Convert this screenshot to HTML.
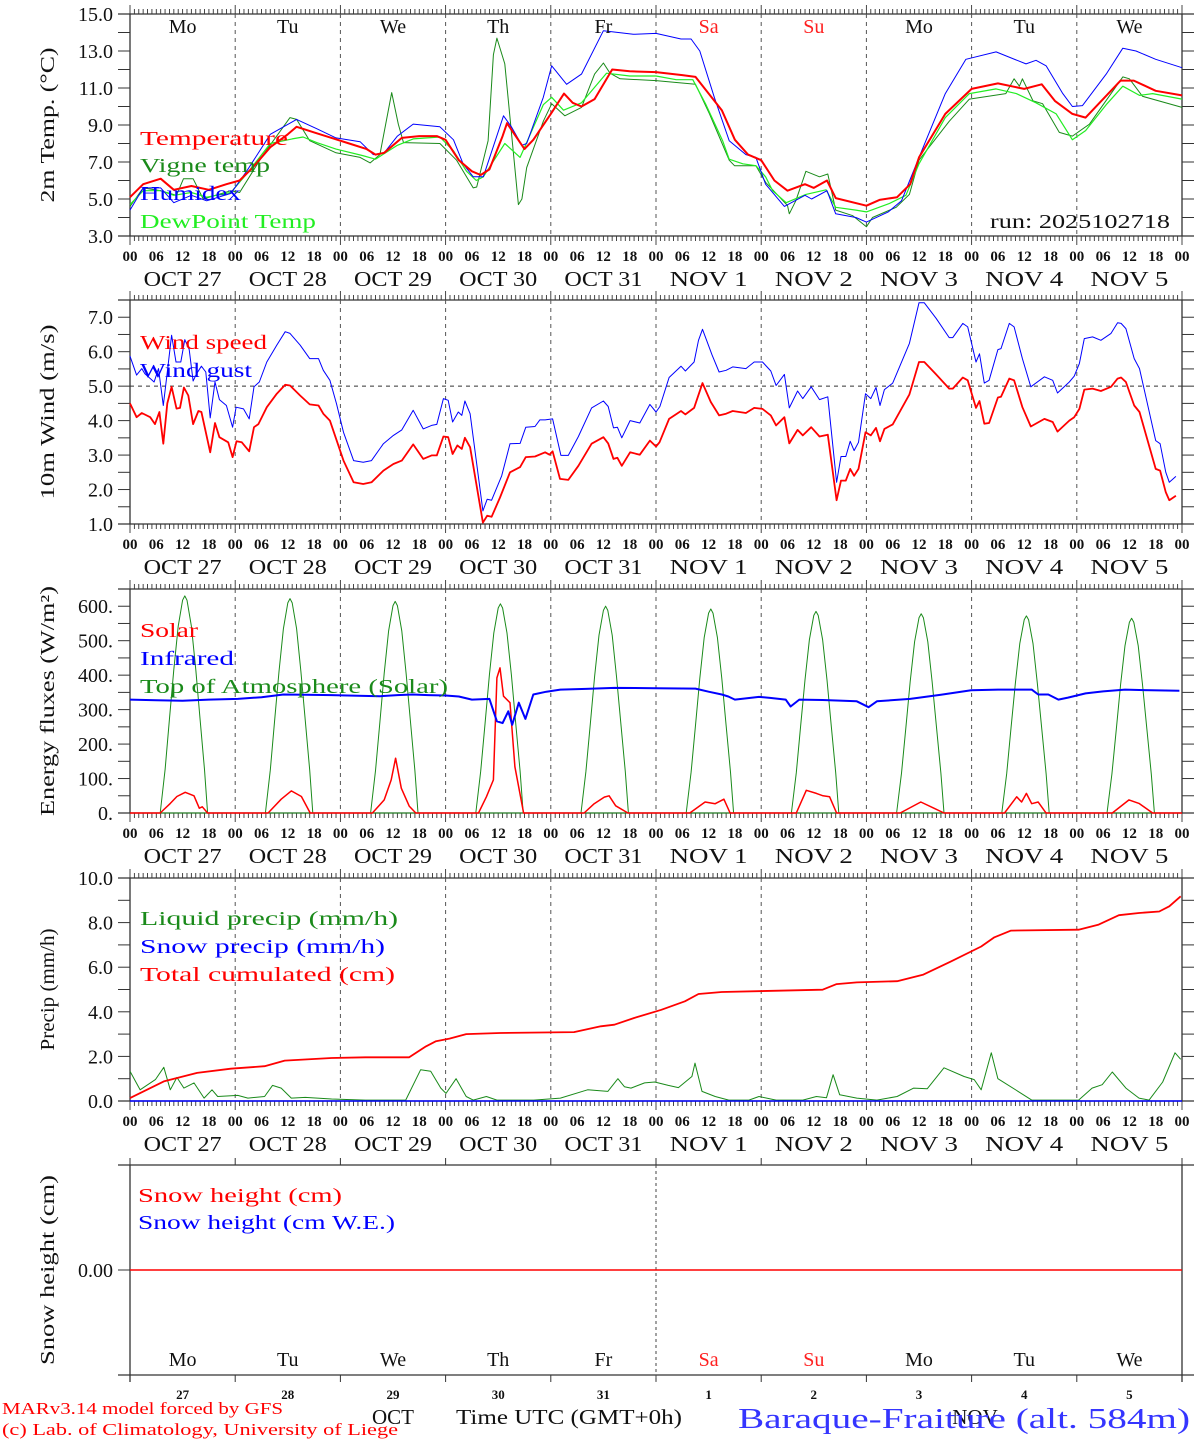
<!DOCTYPE html>
<html><head><meta charset="utf-8">
<style>
html,body{margin:0;padding:0;background:#fff;}
svg{display:block;font-family:"Liberation Serif",serif;}
</style></head>
<body>
<svg id="chart" width="1194" height="1440" viewBox="0 0 1194 1440" xmlns="http://www.w3.org/2000/svg"></svg>
<script>
// ---------- DATA (hours since Oct 27 00 UTC, value) ----------
const dayNames = ["Mo","Tu","We","Th","Fr","Sa","Su","Mo","Tu","We"];
const dayDates = ["OCT 27","OCT 28","OCT 29","OCT 30","OCT 31","NOV  1","NOV  2","NOV  3","NOV  4","NOV  5"];
const dayNums = ["27","28","29","30","31","1","2","3","4","5"];
const hourTicks = ["00","06","12","18"];

const tempH = [0,3,7,10,14,18,22,25,28,32,36,38,42,46,50,54,56,58,62,66,70,72,75,78,80,82,85,86,88,90,92,96,99,101,103,106,109,110,114,120,126,129,135,138,141,144,147,150,154,156,159,161,168,171,175,178,180,186,192,198,204,208,211,215,218,226,229,234,240];
const tempV = [5.1,5.8,6.1,5.5,5.7,5.5,5.8,6.0,6.7,7.8,8.5,8.9,8.6,8.3,8.0,7.7,7.4,7.5,8.3,8.4,8.4,8.2,7.1,6.5,6.3,6.6,8.4,9.1,8.4,7.7,8.2,9.6,10.7,10.2,10.0,10.4,11.6,12.0,11.9,11.86,11.7,11.6,9.8,8.2,7.4,7.1,6.0,5.45,5.8,5.6,6.0,5.05,4.64,4.95,5.1,5.8,7.25,9.6,10.95,11.25,10.95,11.2,10.3,9.6,9.4,11.4,11.4,10.85,10.6];

const humH = [0,3,7,10,14,17.5,23,26.6,32,38,42.6,47,52.5,55.5,58,61,64.6,70.7,73.8,76,78.3,80.6,85.2,87,89.4,90.5,94.3,96.2,99.6,103,108,114.8,120,125.7,128,130,133.3,136.7,140.5,142.8,145,149.3,154,155.5,159,161,165.6,168,173,176,180,186,190.7,197.6,204.4,206.7,209,212.8,215,217.3,222.7,226.5,229.5,234,240];
const humV = [4.4,5.6,5.6,4.8,5.2,4.9,5.3,6.5,8.5,9.3,8.8,8.3,8.1,7.4,7.5,8.4,9.05,8.9,8.2,6.9,6.2,6.2,9.5,8.9,7.9,8.0,10.5,12.2,11.2,11.75,14.1,13.9,13.95,13.65,13.65,13.0,10.5,8.15,7.4,7.25,5.8,4.6,5.2,5.0,5.45,4.2,4.0,3.75,4.3,4.9,7.25,10.7,12.55,12.95,12.3,12.5,12.2,10.7,10.0,10.05,11.75,13.15,13.0,12.55,12.1];

const dewH = [0,3,7,10,14,17.5,23,26.6,32,37,39.5,42.6,47,53,56,61,64.6,70.7,73.8,76.8,79,80.6,85.5,89,94.3,96.2,98.9,103,108.7,114,120,124.6,128.4,131.4,135.2,136.7,139.8,142.8,145,146.6,149.7,154.2,158.8,161,165.6,168,173.2,177,180,186,191.5,197.6,202.2,206.7,211.3,215,218,222.7,226.5,230.3,233.3,240];
const dewV = [4.7,5.45,5.45,5.2,5.35,5.1,5.35,6.35,8.0,8.25,8.35,8.05,7.7,7.35,7.15,7.9,8.25,8.35,7.6,6.5,6.0,6.2,8.0,7.25,10.1,10.5,9.8,10.2,11.8,11.65,11.65,11.45,11.45,10.1,8.15,7.15,6.9,6.8,6.2,5.45,4.8,5.25,5.5,4.55,4.4,4.3,4.75,5.2,6.9,9.4,10.7,10.95,10.7,10.2,9.6,8.2,8.7,10.1,11.1,10.6,10.7,10.4];

const vigH = [0,3,7,10.6,12.2,14.4,16.7,23,25,30.4,36.5,38,41,47,52.5,54.8,57,59.7,61.2,62.4,70.7,74.5,78.3,79.1,81.7,82.9,83.7,85.5,88.6,89.4,90.5,94.3,96.2,99.2,103,106,108,109.5,111.8,120,129,132.2,136.7,137.9,142.8,145,150,150.4,151.9,154.2,157.3,159.2,161,164.9,168,169.4,174.8,177.8,180,186.9,191.5,199.8,201.7,202.9,203.6,206,208.2,212,215,218.9,226.5,228,231,240];
const vigV = [4.6,5.6,5.45,5.2,6.1,6.1,5.0,5.45,5.35,7.4,9.4,9.3,8.15,7.5,7.25,6.95,7.4,10.75,9.05,8.05,8.0,7.1,5.6,5.65,8.15,12.8,13.7,12.3,4.7,5.0,6.7,9.2,10.15,9.5,9.95,11.75,12.35,11.8,11.5,11.4,11.2,9.6,7.1,6.8,6.8,5.9,4.65,4.2,4.9,6.5,6.2,6.35,4.4,4.1,3.5,4.0,4.55,5.25,7.1,9.2,10.4,10.7,11.5,11.1,11.5,10.3,10.15,8.6,8.4,9.05,11.6,11.5,10.55,9.95];

const spdH = [0,1.5,2.7,4.6,5.7,6.7,7.6,8.5,9.5,10.6,11.4,12.3,13.3,14.4,15.6,16.3,18.3,19.4,20.4,22.4,23.4,24.3,25.5,27.2,28.3,29.3,31.2,33.5,35.4,36.5,38.8,41,43,44.1,45.6,48.7,51,53.2,55.1,57.8,60.1,62,64.6,66.9,68.8,70,71.5,72.6,73.6,74.7,75.7,76.4,77.6,80.5,81.5,82.5,84.4,86.7,89,90.3,92.4,94.7,95.7,96.4,98.1,100,102.3,105.3,108,109.1,110.3,111.2,112.2,114.1,116.3,118.6,120,120.8,123,125.7,126.7,128.7,130.6,132.5,134.4,136,137.5,140.5,142.4,144.3,146.2,147.4,149.3,150.4,152.3,153.5,155.4,157.3,159.2,161.2,162.2,163.3,164.3,165.2,166.2,167.8,169,170.2,171.1,172.1,174,177.8,180,181.2,183.9,186.9,187.7,190,191.1,193,193.8,194.9,196,198,198.7,200.6,201.7,203.6,205.5,208.6,210.5,211.6,214.3,215.4,216.6,217.7,219.6,221.5,223.8,225.3,226.1,227.2,229.1,230.3,234,235,236.3,237.1,238.6];
const spdV = [4.5,4.1,4.22,4.1,3.9,4.25,3.33,4.5,4.98,4.35,4.37,4.96,4.73,3.9,4.28,4.25,3.08,3.93,3.52,3.37,2.94,3.4,3.37,3.11,3.81,3.9,4.39,4.78,5.04,5.02,4.73,4.47,4.44,4.2,4.0,2.84,2.21,2.16,2.21,2.55,2.74,2.84,3.31,2.89,2.99,2.99,3.54,3.52,3.03,3.28,3.18,3.5,3.23,1.04,1.24,1.21,1.77,2.5,2.65,2.94,2.96,3.08,3.01,3.11,2.31,2.28,2.69,3.33,3.52,3.34,2.89,2.92,2.69,3.08,3.01,3.42,3.25,3.37,4.05,4.28,4.18,4.37,5.09,4.54,4.15,4.2,4.28,4.22,4.37,4.34,4.15,3.86,4.1,3.34,3.73,3.57,3.81,3.54,3.59,1.69,2.26,2.26,2.6,2.4,2.6,3.66,3.57,3.79,3.4,3.76,3.89,4.76,5.7,5.7,5.34,4.93,4.93,5.25,5.17,4.37,4.57,3.91,3.93,4.67,4.69,5.22,5.17,4.39,3.83,4.05,3.96,3.68,4.0,4.1,4.34,4.9,4.93,4.86,4.98,5.22,5.25,5.12,4.44,4.25,2.6,2.55,1.92,1.69,1.82];

const gstH = [0,1.5,2.7,3.4,5.5,6.5,7.6,8.5,9.5,10.5,11.6,12.5,13.5,14.4,15.2,16.3,17.3,18.3,19.4,20.4,22,23.4,24.2,25.9,27.2,28.3,29.5,31.2,33.5,35.4,36.5,38.8,41,43,44.1,45.6,47.1,48.7,51,53.2,55.1,57.8,60.1,62,64.6,66.9,68.8,70,71.5,72.6,73.6,74.9,75.7,76.4,77.6,80.5,81.5,82.5,84.8,86.7,89,90.3,92.4,93.5,94.7,96.4,98.3,100,102.3,105.3,108,109.1,110.3,111.2,112.2,114.1,116.3,118.6,120,120.9,123,125.7,126.7,128.7,129.7,130.6,132.8,134.4,136,137.5,140.5,142.4,144.3,146.2,147.4,149.3,150.4,152.3,153.5,155.4,157.3,159.2,161.2,162.2,163.3,164.3,165.2,166.2,167.8,169,170.2,171.1,172.1,174,177.8,180,181.2,183.9,186.9,187.7,190,191.1,193,193.8,194.9,196,198,198.7,200.6,201.7,203.6,205.5,208.6,210.5,211.6,214.3,215.4,216.6,217.7,219.6,221.5,223.8,225.3,226.1,227.2,229.1,230.3,234,235,236.3,237.1,238.6];
const gstV = [5.87,5.32,5.51,5.36,5.12,5.51,4.44,5.41,6.48,5.7,5.7,6.35,6.06,5.15,5.36,5.58,5.41,4.08,5.12,4.61,4.44,3.81,4.39,4.34,4.05,4.98,5.12,5.7,6.19,6.58,6.53,6.19,5.8,5.8,5.46,5.17,4.49,3.66,2.84,2.79,2.84,3.33,3.57,3.73,4.3,3.76,3.86,3.89,4.64,4.59,3.96,4.25,4.15,4.57,4.2,1.38,1.72,1.69,2.4,3.33,3.34,3.81,3.83,4.02,4.02,4.05,2.99,2.99,3.54,4.37,4.57,4.41,3.79,3.81,3.5,4.0,3.93,4.47,4.25,4.41,5.25,5.58,5.44,5.7,6.33,6.65,5.9,5.41,5.46,5.56,5.51,5.7,5.7,5.44,5.02,5.34,4.37,4.86,4.64,4.98,4.61,4.69,2.21,2.96,2.96,3.4,3.13,3.37,4.78,4.64,4.96,4.44,4.9,5.09,6.24,7.42,7.42,6.97,6.41,6.41,6.82,6.72,5.7,5.94,5.09,5.17,6.06,6.09,6.82,6.72,5.8,4.98,5.27,5.17,4.8,5.12,5.29,5.66,6.38,6.43,6.33,6.53,6.84,6.82,6.67,5.8,5.51,3.42,3.33,2.5,2.21,2.38];

const irH = [0,6,12,18,24.6,30,35,40,46,52,57,61,64.5,68,72,75,78,82,83.7,85,86.3,87.2,88.7,90.2,92,95,98.2,104,110.5,120,129,132,135,136.5,138,140,143.5,146,149.6,150.7,152.7,158,165.8,168.5,170.4,178,185,191.9,198,205.7,207.2,209.5,211.8,214,218,222,227,233,239.4];
const irV = [329,327,326,329,331,336,344,343,342,340,339,342,344,342,341,338,329,331,266,261,295,256,320,273,344,352,358,360,363,362,361,352,344,338,329,332,337,334,329,309,329,328,324,307,324,331,343,356,358,358,344,344,329,335,347,353,358,356,355];

const toaPeak = [630,622,614,607,600,592,585,578,572,565];
const toaProfH = [6.9,8,9,10,11,12,12.5,13,14,15,16,17,17.7];
const toaProfF = [0,0.2,0.43,0.66,0.86,0.98,1,0.98,0.86,0.66,0.43,0.2,0];

const solH = [0,6.9,9.2,10.7,12.6,14.6,15.8,16.5,17.7,31.5,34.5,36.8,39.1,41.1,55.3,58,59.6,60.6,61.9,63.7,65.2,79.5,81.3,82.9,83.7,84.4,85.2,86.7,87.8,89.8,103.6,105.9,108.2,109.3,110.8,113.6,127.7,131.2,133.5,135.5,136.9,152,154.3,156.6,158.1,159.6,161.2,175.7,180.4,183.4,185.7,199.5,202.3,203.4,204.5,205.7,207.2,209,224.1,227.9,230.2,233.3,240];
const solV = [0,0,28,48,60,50,14,18,0,0,40,64,48,0,0,38,96,159,72,20,0,0,47,96,392,421,339,320,134,0,0,27,46,50,21,0,0,32,27,40,0,0,66,57,50,47,0,0,32,14,0,0,47,32,57,27,32,0,0,38,28,0,0];

const cumH = [0,7.7,15.3,23,30.7,35.3,46,53.7,63.7,67.5,69.8,72.9,76.7,84.4,101.3,107.4,110.5,115,121.2,126.6,129.7,135,158,161.2,165.8,175,181,187.3,194.2,197.2,201,216.4,221,225.6,230.2,234.8,237.1,239.7];
const cumV = [0.13,0.88,1.26,1.45,1.56,1.81,1.93,1.96,1.96,2.45,2.68,2.8,3.0,3.05,3.09,3.35,3.42,3.72,4.09,4.47,4.8,4.89,4.99,5.24,5.32,5.37,5.67,6.26,6.93,7.34,7.64,7.68,7.91,8.33,8.43,8.5,8.73,9.18];

const liqH = [0,2.3,5.8,7.7,9.2,10.7,12.3,14.6,16.9,18.7,20,24.6,26.9,30.7,32.5,34.5,36.8,40,46,53.7,62.9,66.3,68.6,70.9,72.1,74.4,76.7,78.3,81.3,83.7,92.1,98.2,104.4,109,111.3,112.8,114.3,117.4,119.7,122.8,125.1,128.2,128.9,130.5,133.5,136.6,141.2,143.5,147.4,153.5,156.6,158.9,160.4,161.9,165.8,170.4,175,178.8,181.9,185.7,190.3,192.6,194.2,196.5,198,202.6,205.7,216.4,219.5,221.8,224.1,227.2,230.2,232.5,235.6,238.4,239.7];
const liqV = [1.33,0.5,0.96,1.51,0.5,1.06,0.58,0.81,0.13,0.5,0.2,0.25,0.13,0.2,0.7,0.58,0.13,0.16,0.09,0.04,0.04,1.4,1.33,0.58,0.34,1.0,0.2,0.04,0.2,0.04,0.04,0.13,0.5,0.43,1.0,0.64,0.58,0.81,0.85,0.7,0.6,1.1,1.7,0.43,0.2,0.04,0.04,0.2,0.04,0.04,0.2,0.15,1.18,0.28,0.13,0.04,0.2,0.58,0.55,1.49,1.1,0.96,0.5,2.16,1.0,0.43,0.04,0.04,0.58,0.73,1.3,0.58,0.13,0.04,0.85,2.16,1.87];

const snowH = [0,240];
const snowV = [0,0];

// ---------- RENDERING ----------
const NS = "http://www.w3.org/2000/svg";
const svg = document.getElementById("chart");
const X0 = 130, X1 = 1182, HOURS = 240;
function xs(h){ return X0 + h*(X1-X0)/HOURS; }
function mk(tag, attrs, parent){
  const e = document.createElementNS(NS, tag);
  for (const k in attrs) e.setAttribute(k, attrs[k]);
  (parent||svg).appendChild(e);
  return e;
}
function txt(str, x, y, size, color, anchor, parent, extra){
  const t = mk("text", {x:x, y:y, "font-size":size, fill:color||"#000", "text-anchor":anchor||"start"}, parent);
  if (extra) for (const k in extra) t.setAttribute(k, extra[k]);
  t.textContent = str;
  return t;
}

const panels = [
  {name:"temperature", top:14, bot:236, min:3, max:15, labels:[3,5,7,9,11,13,15], fmt:v=>v.toFixed(1), minor:1, title:"2m Temp. (\u00B0C)", tlen:155, xlabels:true},
  {name:"wind", top:300, bot:524, min:1, max:7.5, labels:[1,2,3,4,5,6,7], fmt:v=>v.toFixed(1), minor:0.5, title:"10m Wind (m/s)", tlen:175, xlabels:true},
  {name:"energy", top:589, bot:813, min:0, max:650, labels:[0,100,200,300,400,500,600], fmt:v=>v.toFixed(0)+".", minor:50, title:"Energy fluxes (W/m\u00B2)", tlen:230, xlabels:true},
  {name:"precip", top:878, bot:1101, min:0, max:10, labels:[0,2,4,6,8,10], fmt:v=>v.toFixed(1), minor:1, title:"Precip (mm/h)", tlen:122, xlabels:true},
  {name:"snow", top:1165, bot:1375, min:-1, max:1, labels:[0], fmt:v=>v.toFixed(2), minor:null, title:"Snow height (cm)", tlen:190, xlabels:false}
];
function ys(p, v){ return p.bot - (v - p.min)*(p.bot - p.top)/(p.max - p.min); }

panels.forEach((p, pi) => {
  const g = mk("g", {});
  
  
  const ax = "#333";
  // frame lines
  mk("line",{x1:X0,y1:p.top-(pi===4?0:0),x2:X0,y2:p.bot+(pi===4?7:0),stroke:ax,"stroke-width":1.3},g);
  mk("line",{x1:X1,y1:p.top,x2:X1,y2:p.bot+(pi===4?7:0),stroke:ax,"stroke-width":1.3},g);
  mk("line",{x1:118,y1:p.top,x2:1194,y2:p.top,stroke:ax,"stroke-width":1.3},g);
  mk("line",{x1:118,y1:p.bot,x2:1194,y2:p.bot,stroke:ax,"stroke-width":1.3},g);
  // y ticks
  if (p.minor){
    for (let v = p.min; v <= p.max + 1e-9; v += p.minor){
      const y = ys(p, v);
      mk("line",{x1:118,y1:y,x2:X0,y2:y,stroke:ax,"stroke-width":1},g);
      mk("line",{x1:X1,y1:y,x2:1194,y2:y,stroke:ax,"stroke-width":1},g);
    }
  } else {
    p.labels.forEach(v => {
      const y = ys(p, v);
      mk("line",{x1:118,y1:y,x2:X0,y2:y,stroke:ax,"stroke-width":1},g);
    });
  }
  p.labels.forEach(v => {
    const t = txt(p.fmt(v), 113, ys(p, v)+7, 20, "#111", "end", g);
    
    
  });
  // y title
  const cy = (p.top + p.bot)/2;
  const tt = txt(p.title, 0, 0, 20, "#111", "middle", g, {transform:"translate(54,"+cy+") rotate(-90)", textLength:p.tlen, lengthAdjust:"spacingAndGlyphs"});
  
  
  // x ticks
  if (pi < 4){
    for (let h = 0; h <= HOURS; h++){
      const x = xs(h);
      const big = (h % 24 === 0);
      mk("line",{x1:x,y1:p.top-(big?9:5),x2:x,y2:p.top,stroke:ax,"stroke-width":0.9},g);
      mk("line",{x1:x,y1:p.bot,x2:x,y2:p.bot+(big?9:5),stroke:ax,"stroke-width":0.9},g);
    }
    for (let d = 1; d < 10; d++){
      const x = xs(d*24);
      mk("line",{x1:x,y1:p.top,x2:x,y2:p.bot,stroke:"#555","stroke-width":1,"stroke-dasharray":"4,4"},g);
    }
    if (pi === 1){
      const y = ys(p, 5);
      const dl = mk("line",{x1:X0,y1:y,x2:X1,y2:y,stroke:"#333","stroke-width":1,"stroke-dasharray":"4,4"},g);
      
      
    }
    // x labels
    for (let d = 0; d <= 10; d++){
      for (let k = 0; k < 4; k++){
        if (d === 10 && k > 0) break;
        const t = txt(hourTicks[k], xs(d*24 + k*6), p.bot+25, 15, "#111", "middle", g, {"font-weight":"bold"});
        
        
      }
      if (d < 10){
        const t = txt(dayDates[d], xs(d*24+12), p.bot+50, 21, "#111", "middle", g, {"xml:space":"preserve", textLength:78, lengthAdjust:"spacingAndGlyphs"});
        
        
      }
    }
  } else {
    for (let d = 0; d <= 10; d++){
      const x = xs(d*24);
      mk("line",{x1:x,y1:p.top-7,x2:x,y2:p.top,stroke:ax,"stroke-width":1},g);
      mk("line",{x1:x,y1:p.bot,x2:x,y2:p.bot+7,stroke:ax,"stroke-width":1},g);
    }
    mk("line",{x1:xs(120),y1:p.top,x2:xs(120),y2:p.bot+7,stroke:"#444","stroke-width":1,"stroke-dasharray":"3,3"},g);
    for (let d = 0; d < 10; d++){
      const t = txt(dayNames[d], xs(d*24+12), p.bot-9, 20, (d===5||d===6)?"#ff2020":"#111", "middle", g);
      
      
      const n = txt(dayNums[d], xs(d*24+12), p.bot+24, 13, "#111", "middle", g, {"font-weight":"bold"});
      
      
    }
  }
  p.g = g;
});

// day names top panel
for (let d = 0; d < 10; d++){
  const t = txt(dayNames[d], xs(d*24+12), 33, 20, (d===5||d===6)?"#ff2020":"#111", "middle");
  
  
}

function series(p, H, V, color, w, name){
  const pts = H.map((h,i) => xs(h).toFixed(1)+","+ys(p, V[i]).toFixed(1)).join(" ");
  const pl = mk("polyline",{points:pts, fill:"none", stroke:color, "stroke-width":w, "stroke-linejoin":"round"}, p.g);
  
  
  return pl;
}
function legend(p, str, y, color, len, name){
  const t = txt(str, 140, y, 20, color, "start", p.g, {textLength:len, lengthAdjust:"spacingAndGlyphs"});
  
  
}

const P = panels;
const RED="#ff0000", BLUE="#0000ff", DGREEN="#1a8a1a", LGREEN="#22ee22";
// panel 1
series(P[0], vigH, vigV, DGREEN, 1, "vigne-temp-line");
series(P[0], dewH, dewV, LGREEN, 1.2, "dewpoint-line");
series(P[0], humH, humV, BLUE, 1, "humidex-line");
series(P[0], tempH, tempV, RED, 2, "temperature-line");
legend(P[0], "Temperature", 145, RED, 148, "legend-temperature");
legend(P[0], "Vigne temp", 172, DGREEN, 130, "legend-vigne-temp");
legend(P[0], "Humidex", 200, BLUE, 101, "legend-humidex");
legend(P[0], "DewPoint Temp", 228, LGREEN, 176, "legend-dewpoint");
(function(){ const t = txt("run: 2025102718", 1170, 228, 20, "#111", "end", P[0].g, {textLength:180, lengthAdjust:"spacingAndGlyphs"});

 })();
// panel 2
series(P[1], gstH, gstV, BLUE, 1, "wind-gust-line");
series(P[1], spdH, spdV, RED, 1.8, "wind-speed-line");
legend(P[1], "Wind speed", 349, RED, 127, "legend-wind-speed");
legend(P[1], "Wind gust", 377, BLUE, 112, "legend-wind-gust");
// panel 3
for (let d = 0; d < 10; d++){
  const H = toaProfH.map(h => h + d*24);
  const V = toaProfF.map(f => f*toaPeak[d]);
  series(P[2], H, V, DGREEN, 1, "toa-solar-day-" + (d+1));
}
series(P[2], [0,240], [0,0], DGREEN, 1, "toa-baseline");
series(P[2], solH, solV, RED, 1.5, "solar-line");
series(P[2], irH, irV, BLUE, 2, "infrared-line");
legend(P[2], "Solar", 637, RED, 58, "legend-solar");
legend(P[2], "Infrared", 665, BLUE, 94, "legend-infrared");
legend(P[2], "Top of Atmosphere (Solar)", 693, DGREEN, 308, "legend-toa");
// panel 4
series(P[3], liqH, liqV, DGREEN, 1, "liquid-precip-line");
series(P[3], snowH, snowV, BLUE, 1.5, "snow-precip-line");
series(P[3], cumH, cumV, RED, 1.8, "cumulated-precip-line");
legend(P[3], "Liquid precip (mm/h)", 925, DGREEN, 258, "legend-liquid-precip");
legend(P[3], "Snow precip (mm/h)", 953, BLUE, 245, "legend-snow-precip");
legend(P[3], "Total cumulated (cm)", 981, RED, 255, "legend-total-cumulated");
// panel 5
series(P[4], snowH, snowV, BLUE, 1, "snow-we-line");
series(P[4], snowH, snowV, RED, 1.5, "snow-height-line");
(function(){
  let t = txt("Snow height (cm)", 138, 1202, 20, RED, "start", P[4].g, {textLength:204, lengthAdjust:"spacingAndGlyphs"});
  
  
  t = txt("Snow height (cm W.E.)", 138, 1229, 20, BLUE, "start", P[4].g, {textLength:257, lengthAdjust:"spacingAndGlyphs"});
  
  
})();

// footer
(function(){
  let t = txt("OCT", 393, 1424, 21, "#111", "middle");
  
  
  t = txt("NOV", 975, 1424, 21, "#111", "middle");
  
  
  t = txt("Time UTC (GMT+0h)", 456, 1424, 21, "#111", "start", null, {textLength:226, lengthAdjust:"spacingAndGlyphs"});
  
  
  t = txt("MARv3.14 model forced by GFS", 2, 1414, 17, RED, "start", null, {textLength:281, lengthAdjust:"spacingAndGlyphs"});
  
  
  t = txt("(c) Lab. of Climatology, University of Liege", 2, 1435, 17, RED, "start", null, {textLength:396, lengthAdjust:"spacingAndGlyphs"});
  
  
  t = txt("Baraque-Fraiture (alt. 584m)", 738, 1428, 28, "#3535ff", "start", null, {textLength:452, lengthAdjust:"spacingAndGlyphs"});
  
  
})();
</script>
</body></html>
